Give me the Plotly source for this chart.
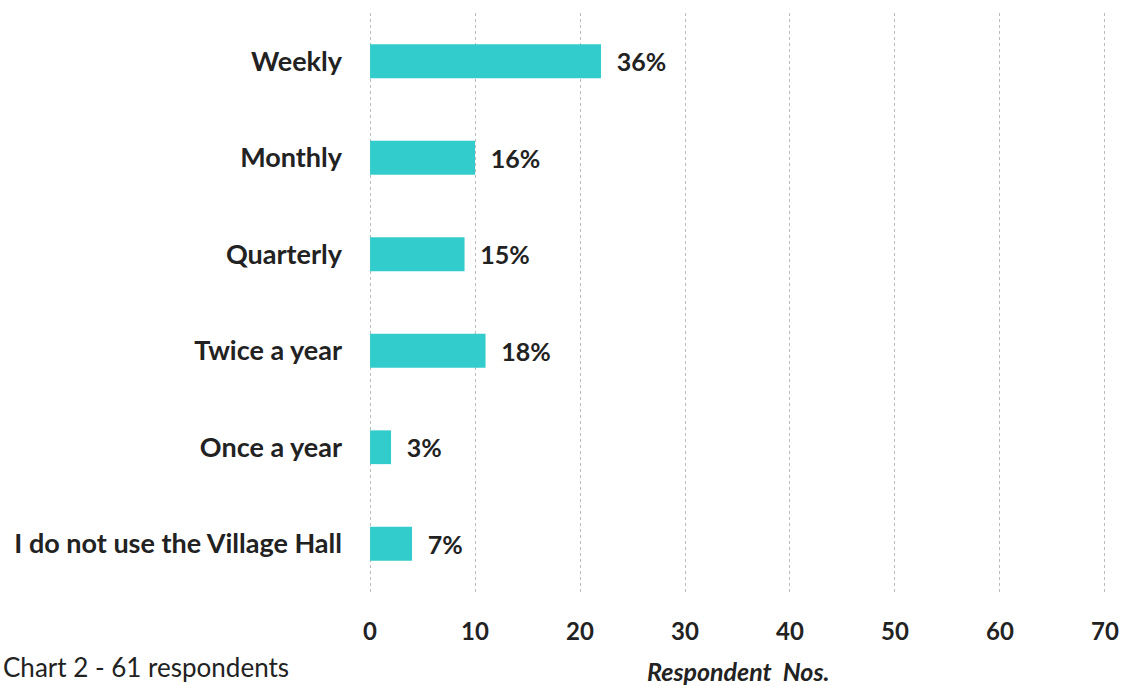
import plotly.graph_objects as go

categories = ["Weekly", "Monthly", "Quarterly", "Twice a year", "Once a year",
              "I do not use the Village Hall"]
respondents = [22, 10, 9, 11, 2, 4]
percent_labels = ["36%", "16%", "15%", "18%", "3%", "7%"]
x_ticks = [0, 10, 20, 30, 40, 50, 60, 70]

FONT = "Lato, Open Sans, sans-serif"
W, H = 1121, 686
L, R, T, B = 369, 15, 13, 94
plot_w = W - L - R
plot_h = H - T - B

fig = go.Figure(go.Bar(
    y=categories,
    x=respondents,
    orientation="h",
    marker=dict(color="#33CCCC", line=dict(width=0)),
    width=0.35,
    text=["\u00a0\u00a0<b>" + p + "</b>" for p in percent_labels],
    textposition="outside",
    textfont=dict(family=FONT, size=25, color="#222222"),
    cliponaxis=False,
))

fig.update_layout(
    width=W, height=H,
    margin=dict(l=L, r=R, t=T, b=B),
    plot_bgcolor="white", paper_bgcolor="white",
    showlegend=False,
    xaxis=dict(
        range=[-0.1, 70.1], tickvals=x_ticks,
        ticktext=[f"<b>{t}</b>" for t in x_ticks],
        showgrid=True, gridcolor="#BBBBBB", griddash="dot", gridwidth=1,
        zeroline=False, showline=False, automargin=False,
        tickfont=dict(family=FONT, size=24, color="#222222"),
        ticks="", ticklabelstandoff=23,
    ),
    yaxis=dict(
        categoryorder="array", categoryarray=categories[::-1],
        tickvals=categories,
        ticktext=[f"<b>{c}</b>" for c in categories],
        tickfont=dict(family=FONT, size=27, color="#222222"),
        ticks="", ticklabelstandoff=26, showgrid=False, showline=False,
        automargin=False,
    ),
    annotations=[
        dict(text="Chart 2 - 61 respondents",
             x=(1 - L) / plot_w, y=(H - B - 667) / plot_h,
             xref="paper", yref="paper", showarrow=False,
             xanchor="left", yanchor="middle",
             font=dict(family=FONT, size=26, color="#222222")),
        dict(text="<b><i>Respondent  Nos.</i></b>",
             x=(738 - L) / plot_w, y=(H - B - 671) / plot_h,
             xref="paper", yref="paper", showarrow=False,
             xanchor="center", yanchor="middle",
             font=dict(family=FONT, size=25, color="#222222")),
    ],
)

fig.write_html("out.html", config={"displayModeBar": False},
               post_script="document.body.style.margin='0';")
